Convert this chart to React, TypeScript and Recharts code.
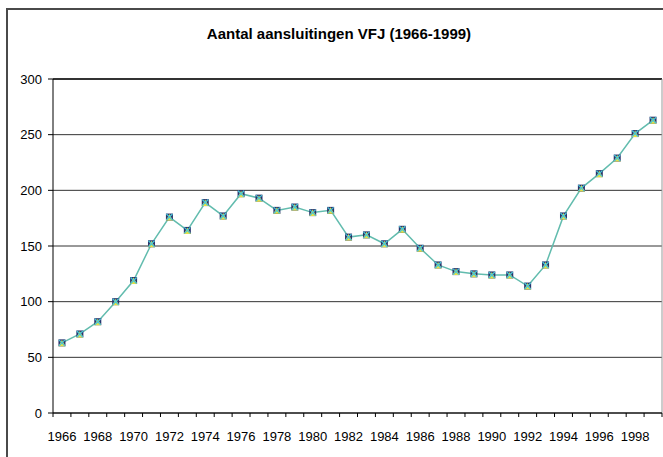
import { LineChart, Line, XAxis, YAxis, CartesianGrid, ReferenceLine } from 'recharts';

// aantal aansluitingen per jaar
const years = [
  1966, 1967, 1968, 1969, 1970, 1971, 1972, 1973, 1974, 1975, 1976, 1977,
  1978, 1979, 1980, 1981, 1982, 1983, 1984, 1985, 1986, 1987, 1988, 1989,
  1990, 1991, 1992, 1993, 1994, 1995, 1996, 1997, 1998, 1999,
];
const aansluitingen = [
  63, 71, 82, 100, 119, 152, 176, 164, 189, 177, 197, 193,
  182, 185, 180, 182, 158, 160, 152, 165, 148, 133, 127, 125,
  124, 124, 114, 133, 177, 202, 215, 229, 251, 263,
];
const yTicks = [0, 50, 100, 150, 200, 250, 300];
// tick marks sit between the years, like a category axis
const xBoundaries = [...years.map((y) => y - 0.5), years[years.length - 1] + 0.5];

const data = years.map((year, i) => ({ year, value: aansluitingen[i] }));

const W = 663;
const H = 457;
const MARGIN = { top: 79, right: 1, bottom: 14, left: 0 };
const Y_AXIS_W = 53;
const HALF_CAT = (W - MARGIN.left - MARGIN.right - Y_AXIS_W) / years.length / 2;
const FONT = '"Liberation Sans", Arial, sans-serif';

if (typeof document !== 'undefined') document.body.style.margin = '0';

function YearTick({ x, y, payload }: any) {
  const year = payload.value + 0.5;
  if (year % 2 !== 0 || year > years[years.length - 1]) return <g />;
  return (
    <text x={x + HALF_CAT} y={y} dy="0.71em" textAnchor="middle"
      fontSize={13} fontFamily={FONT} fill="#000">
      {year}
    </text>
  );
}

function Marker({ cx, cy }: any) {
  if (cx == null || cy == null) return <g />;
  return (
    <g>
      <rect x={cx - 3.5} y={cy - 3.5} width={7} height={7} fill="#27336e" />
      <polygon points={`${cx},${cy - 3} ${cx + 3.5},${cy + 3.5} ${cx - 3.5},${cy + 3.5}`} fill="#e4e048" />
      <path d={`M${cx - 3},${cy - 3}L${cx + 3},${cy + 3}M${cx + 3},${cy - 3}L${cx - 3},${cy + 3}`}
        stroke="#48c4d4" strokeWidth={1.3} />
    </g>
  );
}

export default function App() {
  return (
    <div style={{ position: 'relative', width: W, height: H, background: '#fff', overflow: 'hidden' }}>
      <div style={{
        position: 'absolute', left: 6, top: 8, right: 0, bottom: 0,
        borderLeft: '2px solid #4a4a4a', borderTop: '2px solid #4a4a4a',
      }} />
      <div style={{
        position: 'absolute', left: 6, width: 666, top: 24, lineHeight: '19px',
        textAlign: 'center', fontFamily: FONT, fontWeight: 'bold', fontSize: 15, color: '#000',
      }}>
        Aantal aansluitingen VFJ (1966-1999)
      </div>
      <div style={{ position: 'absolute', left: 0, top: 0 }}>
        <LineChart width={W} height={H} data={data} margin={MARGIN}>
          <CartesianGrid vertical={false} stroke="#333" />
          <XAxis type="number" dataKey="year" domain={[1965.5, 1999.5]} ticks={xBoundaries}
            interval={0} height={30} tickSize={4} tickMargin={15}
            stroke="#000" tick={<YearTick />} />
          <YAxis domain={[0, 300]} ticks={yTicks} width={Y_AXIS_W} tickSize={5} tickMargin={6}
            stroke="#000" tick={{ fontSize: 13, fontFamily: FONT, fill: '#000' }} />
          <ReferenceLine y={300} stroke="#333" strokeWidth={2} />
          <ReferenceLine x={1999.5} stroke="#999" />
          <Line type="linear" dataKey="value" stroke="#62bcae" strokeWidth={1.5}
            dot={<Marker />} activeDot={false} isAnimationActive={false} />
        </LineChart>
      </div>
    </div>
  );
}
